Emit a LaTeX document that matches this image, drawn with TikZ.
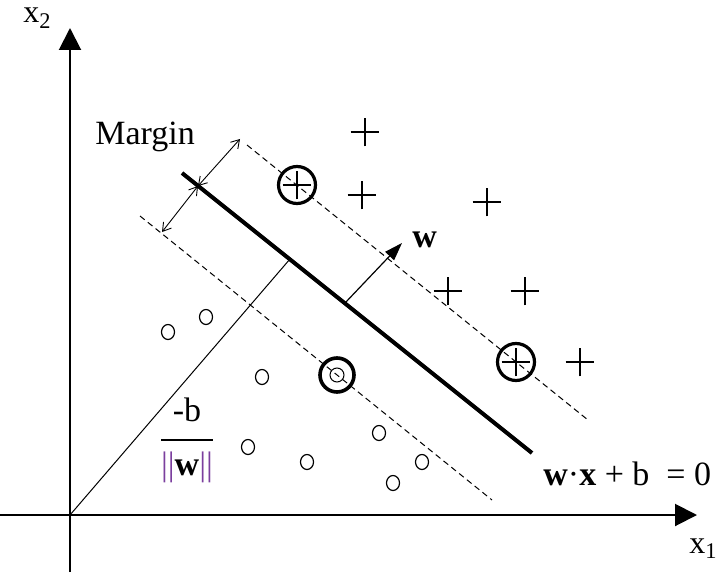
\documentclass[tikz,border=0pt]{standalone}
\usepackage{fontspec}
\setmainfont{Liberation Serif}
\usepackage{tikz}
\usetikzlibrary{arrows.meta,shapes.geometric,shapes.misc}
\definecolor{normbar}{HTML}{7B3F9E}

\begin{document}
\begin{tikzpicture}[x=0.5pt,y=-0.5pt,
      axisline/.style={line width=1pt,-{Triangle[length=11pt,width=11pt]}},
      hyper/.style={line width=2pt},
      marginline/.style={line width=0.5pt,dash pattern=on 3pt off 2pt},
      footline/.style={line width=0.5pt},
      gap/.style={line width=0.45pt,{Straight Barb[length=4pt,width=5pt]}-{Straight Barb[length=4pt,width=5pt]}},
      wvec/.style={line width=0.6pt,-{Triangle[length=9pt,width=6pt]}},
      plus/.style={cross out,draw,rotate=45,minimum size=9.5pt,inner sep=0pt,line width=0.7pt},
      ring/.style={circle,draw,line width=1.6pt,minimum size=18.5pt,inner sep=0pt},
      dot/.style={ellipse,draw,line width=0.6pt,minimum width=6.5pt,minimum height=7.5pt,inner sep=0pt},
      lbl/.style={font=\fontsize{17}{20}\selectfont,inner sep=0pt},
      axlbl/.style={font=\fontsize{16}{18}\selectfont,inner sep=0pt,text height=1.2ex}
    ]
      \useasboundingbox (0,0) rectangle (716,572);
      \coordinate (xs) at (0,515);
      \coordinate (xe) at (697,515);
      \coordinate (ys) at (70,572);
      \coordinate (ye) at (70,28);
      \coordinate (O) at (70,515);
      \coordinate (h1) at (182,173);
      \coordinate (h2) at (532,453);
      \coordinate (u1) at (247,145);
      \coordinate (u2) at (588,420);
      \coordinate (l1) at (140,216);
      \coordinate (l2) at (492,500);
      \coordinate (foot) at (290,259);
      \coordinate (m0) at (198,186);
      \coordinate (mtop) at (240,139);
      \coordinate (mbot) at (162,232);
      \coordinate (wbase) at (345,303);
      \coordinate (wtip) at (402,243);
      \draw[axisline] (xs) -- (xe);
      \draw[axisline] (ys) -- (ye);
      \draw[marginline] (u1) -- (u2);
      \draw[marginline] (l1) -- (l2);
      \draw[hyper] (h1) -- (h2);
      \draw[footline] (O) -- (foot);
      \draw[gap] (mtop) -- (m0);
      \draw[gap] (m0) -- (mbot);
      \draw[wvec] (wbase) -- (wtip);
      \foreach \pt [count=\i] in {(365,132),(362,195),(487,202),(448,291),(525,291),(580,362)}
        \node[plus] (p\i) at \pt {};
      \foreach \pt [count=\i] in {(297,185),(516,362)} {
        \node[plus] (sp\i) at \pt {};
        \node[ring] (sr\i) at \pt {};
      }
      \foreach \pt [count=\i] in {(168,332),(206,317),(262,377),(248,447),(307,462),(379,433),(422,462),(393,483)}
        \node[dot] (n\i) at \pt {};
      \node[ring,minimum size=17pt,line width=1.8pt] (snr) at (337,375) {};
      \node[circle,draw,line width=0.5pt,minimum size=7pt,inner sep=0pt] (sn) at (337,375) {};
      \node[axlbl,anchor=base west] (x1) at (689,553) {x\textsubscript{1}};
      \node[axlbl,anchor=base west] (x2) at (23,23) {x\textsubscript{2}};
      \node[lbl,anchor=base west] (marg) at (95,145) {Margin};
      \node[lbl,anchor=base west] (wlab) at (412,247) {\textbf{w}};
      \node[lbl,anchor=base west] (eq) at (543,485) {\textbf{w}·\textbf{x} + b\ \ = 0};
      \node[lbl] (frac) at (187,440) {\setlength{\arrayrulewidth}{1pt}\begin{tabular}{@{}c@{}}-b\\[3pt]\hline\rule{0pt}{17pt}\textcolor{normbar}{||}\textbf{w}\textcolor{normbar}{||}\end{tabular}};
    \end{tikzpicture}
\end{document}
